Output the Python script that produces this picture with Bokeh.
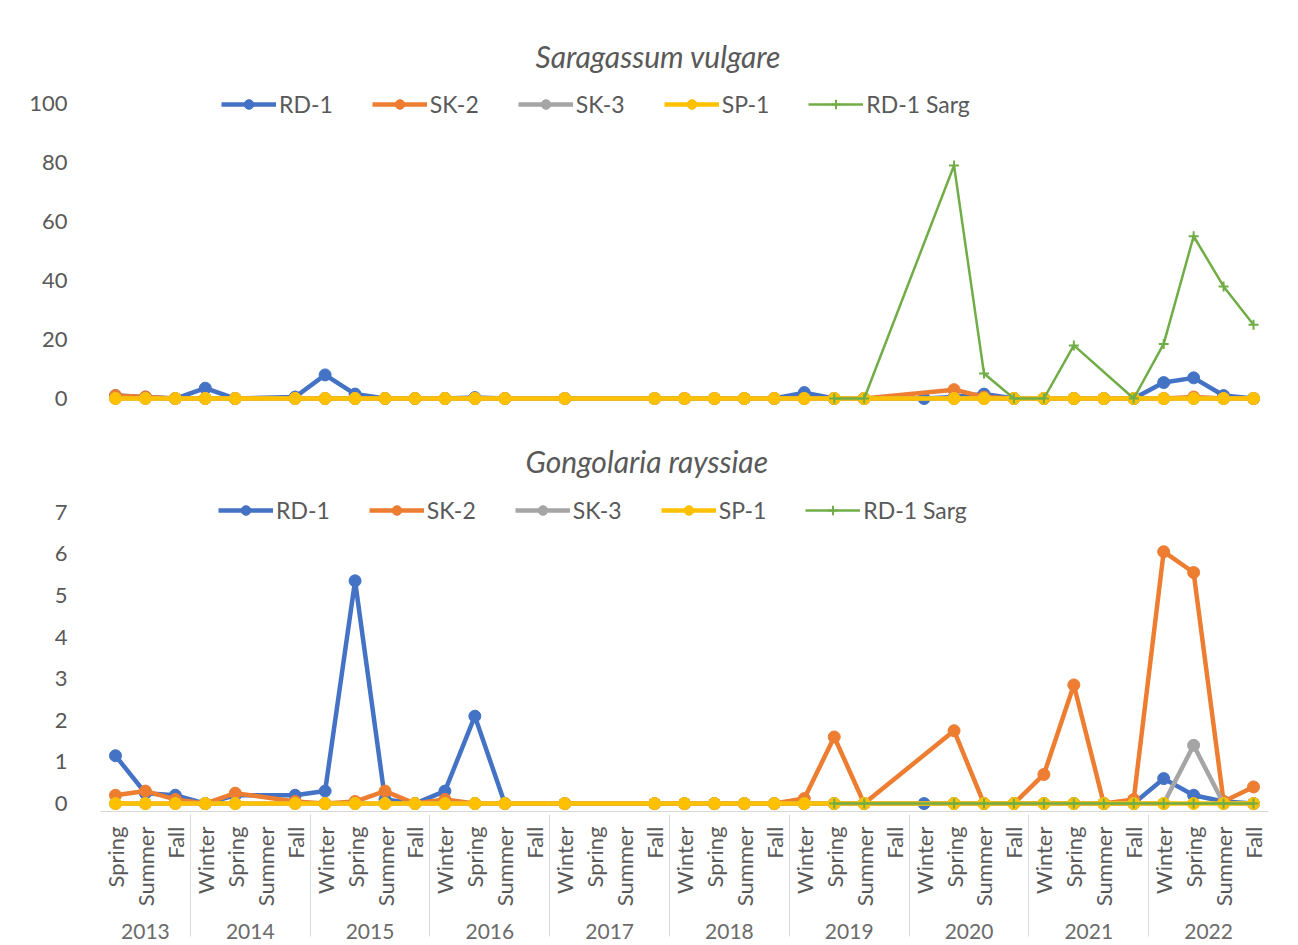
import math
from bokeh.plotting import figure
from bokeh.models import (FactorRange, Range1d, FixedTicker, Legend, LegendItem,
                          ColumnDataSource, BoxAnnotation)
from bokeh.layouts import column
from bokeh.embed import file_html
from bokeh.resources import INLINE

# ---------------- data ----------------
YEARS = ["2013", "2014", "2015", "2016", "2017", "2018", "2019", "2020", "2021", "2022"]
SEASONS = ["Winter", "Spring", "Summer", "Fall"]
FIRST_YEAR_SEASONS = ["Spring", "Summer", "Fall"]

SERIES = ["RD-1", "SK-2", "SK-3", "SP-1", "RD-1 Sarg"]
COLORS = ["#4472C4", "#ED7D31", "#A5A5A5", "#FFC000", "#70AD47"]

TITLE_TOP = "Saragassum vulgare"
TITLE_BOTTOM = "Gongolaria rayssiae"
TICKS_TOP = [0, 20, 40, 60, 80, 100]
TICKS_BOTTOM = [0, 1, 2, 3, 4, 5, 6, 7]

N = None
# Saragassum vulgare (39 seasonal samples, None = not sampled)
SV_RD1 = [1, 0.5, 0, 3.5, 0, N, 0.5, 8, 1.5, 0, 0, 0, 0.3, 0, N, 0, N, N, 0,
          0, 0, 0, 0, 2, 0, 0, N, 0, 0.5, 1.5, 0, 0, 0, 0, 0, 5.4, 7, 1, 0]
SV_SK2 = [1, 0.5, 0, 0, 0, N, 0, 0, 0, 0, 0, 0, 0, 0, N, 0, N, N, 0,
          0, 0, 0, 0, 0, 0, 0, N, N, 3, 0.5, 0, 0, 0, 0, 0, 0, 0.5, 0, 0]
SV_SK3 = [0, 0, 0, 0, 0, N, 0, 0, 0, 0, 0, 0, 0, 0, N, 0, N, N, 0,
          0, 0, 0, 0, 0, 0, 0, N, N, 0, 0, 0, 0, 0, 0, 0, 0, 0, 0, 0]
SV_SP1 = [0, 0, 0, 0, 0, N, 0, 0, 0, 0, 0, 0, 0, 0, N, 0, N, N, 0,
          0, 0, 0, 0, 0, 0, 0, N, N, 0, 0, 0, 0, 0, 0, 0, 0, 0, 0, 0]
SV_SARG = [N, N, N, N, N, N, N, N, N, N, N, N, N, N, N, N, N, N, N,
           N, N, N, N, N, 0, 0, N, N, 79, 8.5, 0, 0, 18, N, 0, 18.5, 55, 38, 25]

# Gongolaria rayssiae
GR_RD1 = [1.15, 0.25, 0.2, 0, 0.2, N, 0.2, 0.3, 5.35, 0.1, 0, 0.3, 2.1, 0, N, 0, N, N, 0,
          0, 0, 0, 0, 0, 0, 0, N, 0, 0, 0, 0, 0, 0, 0, 0, 0.6, 0.2, 0.05, 0]
GR_SK2 = [0.2, 0.3, 0.1, 0, 0.25, N, 0.05, 0, 0.05, 0.3, 0, 0.1, 0, 0, N, 0, N, N, 0,
          0, 0, 0, 0, 0.12, 1.6, 0, N, N, 1.75, 0, 0, 0.7, 2.85, 0, 0.1, 6.05, 5.55, 0.05, 0.4]
GR_SK3 = [0, 0, 0, 0, 0, N, 0, 0, 0, 0, 0, 0, 0, 0, N, 0, N, N, 0,
          0, 0, 0, 0, 0, 0, 0, N, N, 0, 0, 0, 0, 0, 0, 0, 0, 1.4, 0, 0]
GR_SP1 = [0, 0, 0, 0, 0, N, 0, 0, 0, 0, 0, 0, 0, 0, N, 0, N, N, 0,
          0, 0, 0, 0, 0, 0, 0, N, N, 0, 0, 0, 0, 0, 0, 0, 0, 0, 0, 0]
GR_SARG = [N, N, N, N, N, N, N, N, N, N, N, N, N, N, N, N, N, N, N,
           N, N, N, N, N, 0, 0, N, N, 0, 0, 0, 0, 0, 0, 0, 0, 0, 0, 0]

FACTORS = [(YEARS[0], s) for s in FIRST_YEAR_SEASONS] + \
          [(y, s) for y in YEARS[1:] for s in SEASONS]

FONT = "Lato"
TXT = "#595959"
W = 1290


def make_fig(height, title, series_vals, yr, ticks, mb_left, mb_right, mb_top, mb_bottom,
             title_offset, title_standoff, legend_x, show_xaxis):
    p = figure(width=W, height=height,
               x_range=FactorRange(*FACTORS, range_padding=0, group_padding=0,
                                   subgroup_padding=0),
               y_range=Range1d(*yr), output_backend="svg", toolbar_location=None,
               min_border_left=mb_left, min_border_right=mb_right,
               min_border_top=mb_top, min_border_bottom=mb_bottom,
               x_axis_location="below" if show_xaxis else None)
    p.outline_line_color = None
    p.background_fill_color = "white"
    p.border_fill_color = "white"
    p.grid.visible = False

    p.title.text = title
    p.title.text_font = FONT
    p.title.text_font_style = "italic"
    p.title.text_font_size = "30px"
    p.title.text_color = TXT
    p.title.align = "left"
    p.title.offset = title_offset
    p.title.standoff = title_standoff

    ya = p.yaxis[0]
    ya.ticker = FixedTicker(ticks=ticks)
    ya.axis_line_color = None
    ya.major_tick_line_color = None
    ya.minor_tick_line_color = None
    ya.major_label_text_font = FONT
    ya.major_label_text_font_size = "22px"
    ya.major_label_text_color = TXT
    ya.major_label_standoff = 27

    if show_xaxis:
        xa = p.xaxis[0]
        xa.axis_line_color = "#D9D9D9"
        xa.major_tick_line_color = None
        xa.minor_tick_line_color = None
        xa.major_tick_out = 0
        xa.major_label_orientation = math.pi / 2
        xa.major_label_text_font = FONT
        xa.major_label_text_font_size = "22px"
        xa.major_label_text_color = TXT
        xa.major_label_standoff = 15
        xa.group_text_font = FONT
        xa.group_text_font_style = "normal"
        xa.group_text_font_size = "21px"
        xa.group_text_color = "#6b6b6b"
        xa.separator_line_color = "#D9D9D9"
        xa.separator_line_width = 1

    items = []
    for name, color, vals in zip(SERIES, COLORS, series_vals):
        xs = [f for f, v in zip(FACTORS, vals) if v is not None]
        ys = [v for v in vals if v is not None]
        src = ColumnDataSource(data=dict(x=xs, y=ys))
        if name == "RD-1 Sarg":
            lr = p.line("x", "y", source=src, line_color=color, line_width=2.5,
                        line_join="round")
            sr = p.scatter("x", "y", source=src, marker="cross", size=10,
                           line_color=color, line_width=2)
        else:
            lr = p.line("x", "y", source=src, line_color=color, line_width=4.5,
                        line_join="round")
            sr = p.scatter("x", "y", source=src, marker="circle", size=12,
                           fill_color=color, line_color=color)
        items.append(LegendItem(label=name, renderers=[lr, sr]))

    leg = Legend(items=items, orientation="horizontal", location=(legend_x, 287),
                 glyph_width=55, glyph_height=24, label_height=24,
                 label_standoff=3, spacing=39, padding=0, margin=0,
                 border_line_color=None, background_fill_alpha=0,
                 label_text_font=FONT, label_text_font_size="23px",
                 label_text_color=TXT)
    p.add_layout(leg, "center")
    return p


p1 = make_fig(413, TITLE_TOP, [SV_RD1, SV_SK2, SV_SK3, SV_SP1, SV_SARG],
              (-2.37, 107.8), TICKS_TOP, 97, W - 1268, 80, 8, 435, 14, 121, False)
p2 = make_fig(532, TITLE_BOTTOM, [GR_RD1, GR_SK2, GR_SK3, GR_SP1, GR_SARG],
              (-0.19, 7.52), TICKS_BOTTOM, 100, W - 1270, 77, 134, 425, 24, 118, True)

# light chart-area border around the upper chart
p1.add_layout(BoxAnnotation(left=7, right=1288, top=10, bottom=411,
                            left_units="canvas", right_units="canvas",
                            top_units="canvas", bottom_units="canvas",
                            fill_alpha=0, line_color="#D9D9D9", line_width=1.5,
                            level="underlay"))

layout = column(p1, p2, spacing=0)
open("out.html", "w").write(file_html(layout, INLINE))
